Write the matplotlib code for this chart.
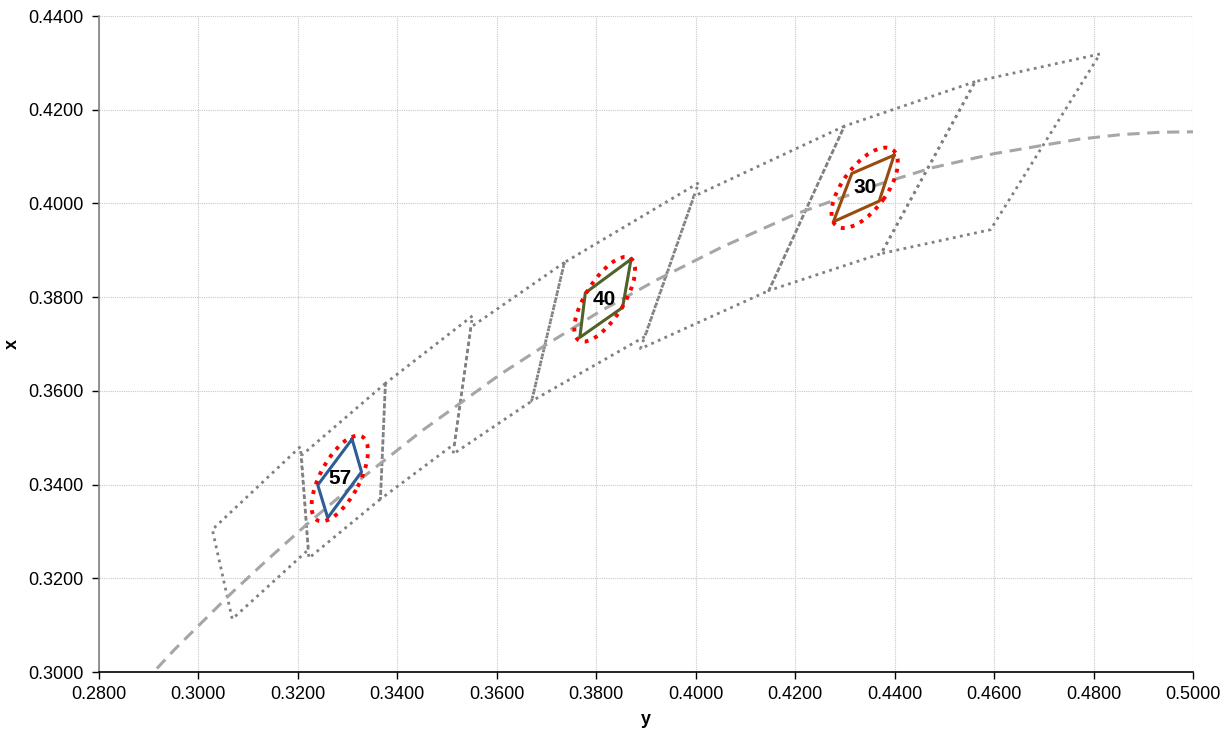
import matplotlib
matplotlib.use("Agg")
import matplotlib.pyplot as plt
from matplotlib.patches import Ellipse
import numpy as np

plt.rcParams['font.family'] = ['Liberation Sans', 'DejaVu Sans']

# ANSI quadrangles (horizontal value, vertical value), one list per CCT
quad_names = ["6500", "5700", "5000", "4500", "4000", "3500", "3000", "2700"]
quad_h = [
    [0.3205, 0.3028, 0.3068, 0.3221],
    [0.3376, 0.3207, 0.3222, 0.3366],
    [0.3551, 0.3376, 0.3366, 0.3515],
    [0.3736, 0.3548, 0.3512, 0.3670],
    [0.4006, 0.3736, 0.3670, 0.3898],
    [0.4299, 0.3996, 0.3889, 0.4147],
    [0.4562, 0.4299, 0.4147, 0.4373],
    [0.4813, 0.4562, 0.4373, 0.4593],
]
quad_v = [
    [0.3481, 0.3304, 0.3113, 0.3261],
    [0.3616, 0.3462, 0.3243, 0.3369],
    [0.3760, 0.3616, 0.3369, 0.3487],
    [0.3874, 0.3736, 0.3465, 0.3578],
    [0.4044, 0.3874, 0.3578, 0.3716],
    [0.4165, 0.4015, 0.3690, 0.3814],
    [0.4260, 0.4165, 0.3814, 0.3893],
    [0.4319, 0.4260, 0.3893, 0.3944],
]

# dashed locus
locus_h = [0.2807, 0.2867, 0.2952, 0.3064, 0.3135, 0.3221, 0.3324, 0.3451,
           0.3608, 0.3700, 0.3805, 0.3922, 0.4053, 0.4200, 0.4369, 0.4475,
           0.4599, 0.4770, 0.4856, 0.4905, 0.4935, 0.5018, 0.5100]
locus_v = [0.2884, 0.2951, 0.3048, 0.3166, 0.3236, 0.3318, 0.3410, 0.3516,
           0.3636, 0.3699, 0.3768, 0.3837, 0.3907, 0.3977, 0.4041, 0.4076,
           0.4106, 0.4137, 0.4147, 0.4150, 0.4152, 0.4153, 0.4150]

# small coloured quadrangles with labels
small_labels = ["57", "40", "30"]
small_colors = ["#2E5D96", "#4F6228", "#9A4A0C"]
small_h = [
    [0.3309, 0.3328, 0.3260, 0.3240],
    [0.3870, 0.3853, 0.3767, 0.3778],
    [0.4399, 0.4369, 0.4277, 0.4314],
]
small_v = [
    [0.3497, 0.3427, 0.3329, 0.3399],
    [0.3881, 0.3778, 0.3714, 0.3809],
    [0.4103, 0.4005, 0.3961, 0.4064],
]
# ellipses: semi-major, semi-minor, angle (deg)
ell_a = [0.0100, 0.0102, 0.0099]
ell_b = [0.0040, 0.0039, 0.0045]
ell_ang = [64, 60, 56]

fig = plt.figure(figsize=(12.31, 7.31), dpi=100)
ax = fig.add_axes([0.0804, 0.0807, 0.8887, 0.8974])

for qh, qv in zip(quad_h, quad_v):
    ax.plot(qh + [qh[0]], qv + [qv[0]], color="#808080", linestyle=(0, (1, 1.6)),
            linewidth=2.0, zorder=3)

ax.plot(locus_h, locus_v, color="#A6A6A6", linestyle=(0, (4, 2.5)), linewidth=2.2,
        zorder=3)

for lab, col, sh, sv, a, b, ang in zip(small_labels, small_colors, small_h, small_v,
                                       ell_a, ell_b, ell_ang):
    ax.plot(sh + [sh[0]], sv + [sv[0]], color=col, linewidth=2.2, zorder=5)
    cx, cy = np.mean(sh), np.mean(sv)
    ax.add_patch(Ellipse((cx, cy), 2 * a, 2 * b, angle=ang, fill=False,
                         edgecolor="red", linestyle=(0, (1, 1.6)), linewidth=2.8,
                         zorder=6))
    ax.text(cx, cy, lab, ha="center", va="center", fontsize=15, fontweight="bold",
            color="black", zorder=7)

ax.set_xlim(0.28, 0.50)
ax.set_ylim(0.30, 0.44)
ax.set_xticks(np.arange(0.28, 0.5001, 0.02))
ax.set_yticks(np.arange(0.30, 0.4401, 0.02))
ax.xaxis.set_major_formatter(plt.FormatStrFormatter("%.4f"))
ax.yaxis.set_major_formatter(plt.FormatStrFormatter("%.4f"))
ax.tick_params(labelsize=13, length=5, width=1, colors="black")
ax.tick_params(axis="y", pad=6)
ax.tick_params(axis="x", pad=5)
ax.grid(True, color="#C8C8C8", linestyle=(0, (1, 1)), linewidth=0.8, zorder=0)
ax.set_axisbelow(True)

for s in ["top", "right"]:
    ax.spines[s].set_visible(False)
ax.spines["left"].set_color("#808080")
ax.spines["left"].set_linewidth(1.2)
ax.spines["bottom"].set_color("black")
ax.spines["bottom"].set_linewidth(1.2)

ax.set_xlabel("y", fontsize=13, fontweight="bold", labelpad=6)
ax.set_ylabel("x", fontsize=13, fontweight="bold", rotation=90)
ax.yaxis.set_label_coords(-0.071, 0.5)

fig.savefig("out.png", dpi=100)
